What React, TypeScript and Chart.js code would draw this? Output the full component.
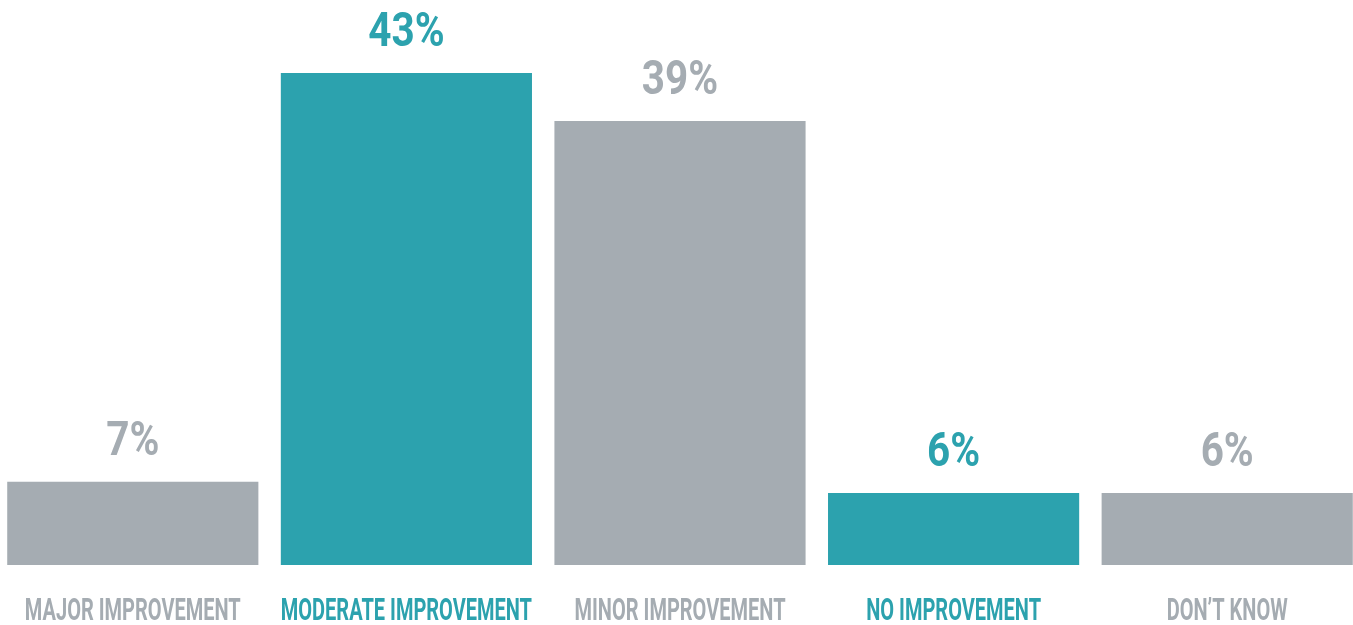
import React, { useEffect, useRef } from "react";
import { Chart, registerables } from "chart.js";

Chart.register(...registerables);

const categories = ["MAJOR IMPROVEMENT", "MODERATE IMPROVEMENT", "MINOR IMPROVEMENT", "NO IMPROVEMENT", "DON\u2019T KNOW"];
const values = [7.3, 43.1, 38.9, 6.3, 6.3];
const valueLabels = ["7%", "43%", "39%", "6%", "6%"];
const TEAL = "#2ca2ae";
const GRAY = "#a5acb2";
const barColors = [GRAY, TEAL, GRAY, TEAL, GRAY];

const FONT = "'Roboto', 'DejaVu Sans Condensed', sans-serif";

const labelPlugin = {
  id: "labels",
  afterDatasetsDraw(chart: any) {
    const ctx = chart.ctx;
    const meta = chart.getDatasetMeta(0);
    const area = chart.chartArea;
    ctx.save();
    ctx.textAlign = "center";
    ctx.textBaseline = "alphabetic";
    // value labels
    ctx.font = `bold 48px ${FONT}`;
    const vTotal = valueLabels.reduce((s, t) => s + ctx.measureText(t).width, 0);
    const vScale = 312 / vTotal;
    meta.data.forEach((bar: any, i: number) => {
      ctx.save();
      ctx.fillStyle = barColors[i];
      ctx.translate(bar.x, bar.y - 27);
      ctx.scale(vScale, 1);
      ctx.fillText(valueLabels[i], 0, 0);
      ctx.restore();
    });
    // category labels
    ctx.font = `bold 32px ${FONT}`;
    const cTotal = categories.reduce((s, t) => s + ctx.measureText(t).width, 0);
    const cScale = 974 / cTotal;
    meta.data.forEach((bar: any, i: number) => {
      ctx.save();
      ctx.fillStyle = barColors[i];
      ctx.translate(bar.x, area.bottom + 55);
      ctx.scale(cScale, 1);
      ctx.fillText(categories[i], 0, 0);
      ctx.restore();
    });
    ctx.restore();
  },
};

export default function App() {
  const ref = useRef<HTMLCanvasElement | null>(null);
  useEffect(() => {
    document.body.style.margin = "0";
    document.body.style.overflow = "hidden";
    const chart = new Chart(ref.current!, {
      type: "bar",
      data: {
        labels: categories,
        datasets: [
          {
            data: values,
            backgroundColor: barColors,
            borderWidth: 0,
            categoryPercentage: 1,
            barPercentage: 0.918,
          },
        ],
      },
      options: {
        animation: false,
        responsive: false,
        maintainAspectRatio: false,
        layout: { padding: { top: 17, bottom: 60, left: 0, right: 0 } },
        plugins: { legend: { display: false }, tooltip: { enabled: false } },
        scales: {
          x: { display: false },
          y: { display: false, min: 0, max: 48 },
        },
      },
      plugins: [labelPlugin],
    });
    return () => chart.destroy();
  }, []);
  return (
    <div style={{ position: "fixed", left: 0, top: 0, width: 1353, height: 625, overflow: "hidden", background: "#fff" }}>
      <canvas ref={ref} width={1368} height={625} style={{ position: "absolute", left: -4, top: 0, width: 1368, height: 625 }} />
    </div>
  );
}
